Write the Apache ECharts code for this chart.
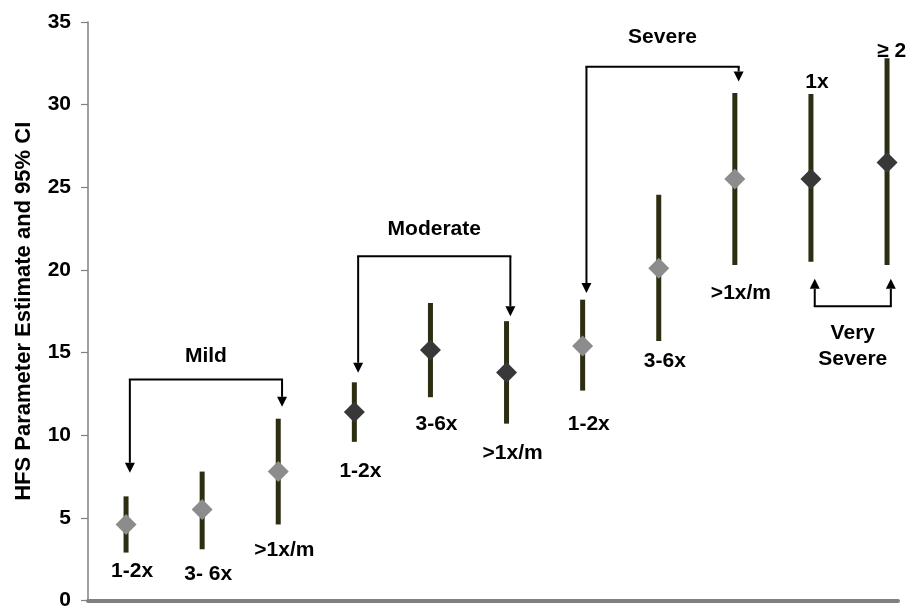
<!DOCTYPE html>
<html><head><meta charset="utf-8">
<script src="https://cdn.jsdelivr.net/npm/echarts@6/dist/echarts.min.js"></script>
<style>html,body{margin:0;padding:0;background:#fff}#c{width:907px;height:611px}</style>
</head><body><div id="c"></div>
<script>
// ---- data ----
const categories = ['1-2x', '3- 6x', '>1x/m', '1-2x', '3-6x', '>1x/m', '1-2x', '3-6x', '>1x/m', '1x', '≥ 2'];
const estimates  = [4.6, 5.5, 7.8, 11.4, 15.15, 13.8, 15.4, 20.1, 25.5, 25.5, 26.5];
const lowerCI    = [2.9, 3.1, 4.6, 9.6, 12.3, 10.7, 12.7, 15.7, 20.3, 20.5, 20.3];
const upperCI    = [6.3, 7.8, 11.0, 13.2, 18.0, 16.9, 18.2, 24.55, 30.7, 30.65, 32.8];
const severityGroup = [0, 0, 0, 1, 1, 1, 2, 2, 2, 3, 3];
const groupNames = ['Mild', 'Moderate', 'Severe', 'Very\nSevere'];
const yTicks = [0, 5, 10, 15, 20, 25, 30, 35];
// annotation anchors (value units)
const labelValue = [1.78, 1.58, 3.05, 7.83, 10.65, 8.9, 10.65, 14.48, 18.62, 31.35, 33.22];
const bracketLevel = [13.37, 20.83, 32.3, 17.8];
const bracketLeftTip = [7.73, 13.78, 18.6, 19.46];
const bracketRightTip = [11.72, 17.2, 31.4, 19.46];
const bracketTextValue = [14.78, 22.49, 34.09, 15.41];

// ---- build ----
const FONT = '"Liberation Sans", Arial, sans-serif';
const lightColor = '#8c8c8c', darkColor = '#383838', barColor = '#2d2d12';
const xPos = categories.map((c, i) => i + 0.5);
const ciData = xPos.map((x, i) => [x, lowerCI[i], upperCI[i]]);
const pointData = xPos.map((x, i) => ({
  value: [x, estimates[i]],
  itemStyle: { color: severityGroup[i] % 2 === 0 ? lightColor : darkColor, opacity: 1 }
}));
const labelData = xPos.map((x, i) => [x, labelValue[i], i]);
const bracketData = groupNames.map((n, g) => {
  const idx = severityGroup.map((s, i) => s === g ? i : -1).filter(i => i >= 0);
  return [xPos[idx[0]] + 0.05, xPos[idx[idx.length - 1]] + 0.05, bracketLevel[g], bracketLeftTip[g], bracketRightTip[g], bracketTextValue[g], g];
});

function arrow(x, levelY, tipY) {
  const down = tipY > levelY;
  const h = 10, w = 5;
  const baseY = down ? tipY - h : tipY + h;
  return [
    { type: 'line', shape: { x1: x, y1: levelY, x2: x, y2: baseY }, style: { stroke: '#000', lineWidth: 2 } },
    { type: 'polygon', shape: { points: [[x - w, baseY], [x + w, baseY], [x, tipY]] }, style: { fill: '#000' } }
  ];
}

const option = {
  animation: false,
  backgroundColor: '#fff',
  grid: { left: 88, right: 9, top: 22, bottom: 10, containLabel: false },
  xAxis: {
    type: 'value', min: 0, max: 10.644,
    axisLine: { show: true, onZero: true, lineStyle: { color: '#808080', width: 4 } },
    axisTick: { show: false }, axisLabel: { show: false }, splitLine: { show: false }
  },
  yAxis: {
    type: 'value', min: yTicks[0], max: yTicks[yTicks.length - 1], interval: 5,
    name: 'HFS Parameter Estimate and 95% CI',
    nameLocation: 'middle', nameGap: 53,
    nameTextStyle: { fontFamily: FONT, fontWeight: 'bold', fontSize: 22, color: '#000' },
    axisLine: { show: true, lineStyle: { color: '#808080', width: 1.5 } },
    axisTick: { show: true, length: 7, lineStyle: { color: '#808080', width: 1.2 } },
    axisLabel: { fontFamily: FONT, fontWeight: 'bold', fontSize: 21, color: '#000', margin: 17 },
    splitLine: { show: false }
  },
  series: [
    {
      type: 'custom', name: 'CI', z: 2,
      data: ciData,
      renderItem: function (params, api) {
        const p1 = api.coord([api.value(0), api.value(1)]);
        const p2 = api.coord([api.value(0), api.value(2)]);
        return { type: 'line', shape: { x1: p1[0], y1: p1[1], x2: p2[0], y2: p2[1] },
          style: { stroke: barColor, lineWidth: 5, lineCap: 'butt' } };
      }
    },
    {
      type: 'scatter', name: 'Estimate', z: 5,
      symbol: 'diamond', symbolSize: [21, 21],
      itemStyle: { opacity: 1 },
      data: pointData
    },
    {
      type: 'custom', name: 'labels', z: 6,
      data: labelData,
      renderItem: function (params, api) {
        const i = api.value(2);
        const p = api.coord([api.value(0) + 0.08, api.value(1)]);
        const last = i === categories.length - 1;
        return { type: 'text', x: last ? p[0] - 16 : p[0], y: p[1],
          style: { text: categories[i], align: last ? 'left' : 'center', verticalAlign: 'middle',
            font: 'bold 21px ' + FONT, fill: '#000' } };
      }
    },
    {
      type: 'custom', name: 'brackets', z: 7,
      data: bracketData,
      renderItem: function (params, api) {
        const xl = api.value(0), xr = api.value(1), lv = api.value(2);
        const L = api.coord([xl, lv]), R = api.coord([xr, lv]);
        const lt = api.coord([xl, api.value(3)]), rt = api.coord([xr, api.value(4)]);
        const t = api.coord([(xl + xr) / 2, api.value(5)]);
        const g = api.value(6);
        const children = [
          { type: 'line', shape: { x1: L[0] - 1, y1: L[1], x2: R[0] + 1, y2: R[1] }, style: { stroke: '#000', lineWidth: 2 } }
        ].concat(arrow(L[0], L[1], lt[1]), arrow(R[0], R[1], rt[1]), [
          { type: 'text', x: t[0], y: t[1], style: { text: groupNames[g], align: 'center', verticalAlign: 'middle',
            font: 'bold 21px ' + FONT, fill: '#000', lineHeight: 26 } }
        ]);
        return { type: 'group', children: children };
      }
    }
  ]
};
const chart = echarts.init(document.getElementById('c'), null, { renderer: 'canvas' });
chart.setOption(option);
</script>
</body></html>
